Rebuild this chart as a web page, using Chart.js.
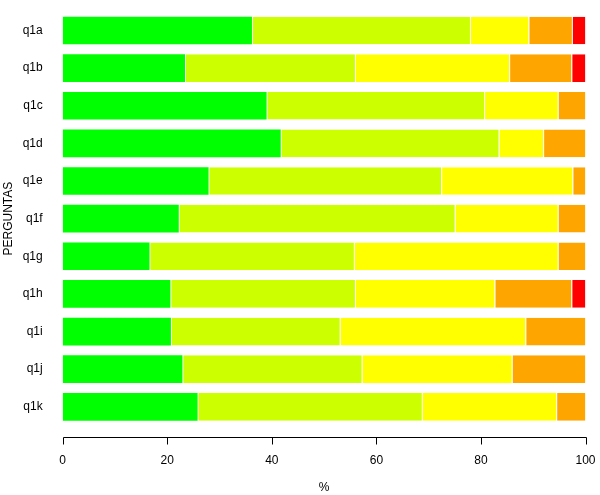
<!DOCTYPE html>
<html>
<head>
<meta charset="utf-8">
<script src="https://cdn.jsdelivr.net/npm/chart.js@4/dist/chart.umd.min.js"></script>
<style>
  html, body { margin: 0; padding: 0; background: #fff; }
  #wrap { width: 600px; height: 495px; position: relative; }
</style>
</head>
<body>
<div id="wrap"><canvas id="chart" width="600" height="495"></canvas></div>
<script>
// Percent per answer level for each question (rows sum to ~100)
const questions = ["q1a", "q1b", "q1c", "q1d", "q1e", "q1f", "q1g", "q1h", "q1i", "q1j", "q1k"];
const level1 = [36.2, 23.4, 39.0, 41.7, 27.9, 22.2, 16.6, 20.6, 20.7, 22.9, 25.8];
const level2 = [41.7, 32.5, 41.6, 41.7, 44.5, 52.8, 39.1, 35.3, 32.3, 34.3, 42.9];
const level3 = [11.2, 29.5, 14.1, 8.5, 25.1, 19.7, 39.0, 26.7, 35.5, 28.7, 25.7];
const level4 = [8.3, 11.9, 5.3, 8.1, 2.5, 5.3, 5.3, 14.7, 11.5, 14.1, 5.6];
const level5 = [2.6, 2.7, 0, 0, 0, 0, 0, 2.7, 0, 0, 0];
const xTicks = [0, 20, 40, 60, 80, 100];

const FONT = "'Liberation Sans', Arial, sans-serif";

function series(data, color, first) {
  return {
    data: data,
    backgroundColor: color,
    borderColor: "#ffffff",
    borderWidth: first ? 0 : { left: 1, right: 0, top: 0, bottom: 0 },
    borderSkipped: false,
    barPercentage: 0.736,
    categoryPercentage: 1.0,
  };
}

// R-style detached x axis: line + ticks drawn a little below the plot area
const rAxis = {
  id: "rAxis",
  afterDraw(chart) {
    const x = chart.scales.x;
    const ctx = chart.ctx;
    const y0 = Math.round(chart.chartArea.bottom + 11.5) + 0.5;
    ctx.save();
    ctx.strokeStyle = "#000";
    ctx.lineWidth = 1;
    ctx.beginPath();
    ctx.moveTo(Math.round(x.getPixelForValue(0)) + 0.5, y0);
    ctx.lineTo(Math.round(x.getPixelForValue(100)) + 0.5, y0);
    xTicks.forEach(function (v) {
      const px = Math.round(x.getPixelForValue(v)) + 0.5;
      ctx.moveTo(px, y0);
      ctx.lineTo(px, y0 + 7);
    });
    ctx.stroke();
    ctx.restore();
  }
};

new Chart(document.getElementById("chart"), {
  type: "bar",
  data: {
    labels: questions,
    datasets: [
      series(level1, "#00ff00", true),
      series(level2, "#ccff00"),
      series(level3, "#ffff00"),
      series(level4, "#ffa500"),
      series(level5, "#ff0000"),
    ]
  },
  options: {
    indexAxis: "y",
    responsive: false,
    animation: false,
    devicePixelRatio: 1,
    layout: { padding: { left: 0, right: 14.5, top: 11.7, bottom: 0 } },
    plugins: { legend: { display: false }, tooltip: { enabled: false } },
    scales: {
      x: {
        stacked: true,
        min: 0,
        max: 100,
        afterBuildTicks: function (scale) {
          scale.ticks = xTicks.map(function (v) { return { value: v }; });
        },
        afterFit: function (scale) {
          scale.height = 69.4;
          scale.paddingLeft = 0;
          scale.paddingRight = 0;
        },
        grid: { display: false },
        border: { display: false },
        ticks: { color: "#000", font: { family: FONT, size: 12 }, padding: 20, maxRotation: 0 },
        title: { display: true, text: "%", color: "#000", font: { family: FONT, size: 12 }, padding: { top: 0, bottom: 0 } }
      },
      y: {
        stacked: true,
        afterFit: function (scale) {
          scale.width = 62.7;
          scale.paddingTop = 0;
          scale.paddingBottom = 0;
        },
        grid: { display: false },
        border: { display: false },
        ticks: { color: "#000", font: { family: FONT, size: 12 }, padding: 12 },
        title: { display: true, text: "PERGUNTAS", color: "#000", font: { family: FONT, size: 12 }, padding: { top: 1, bottom: 0 } }
      }
    }
  },
  plugins: [rAxis]
});
</script>
</body>
</html>
